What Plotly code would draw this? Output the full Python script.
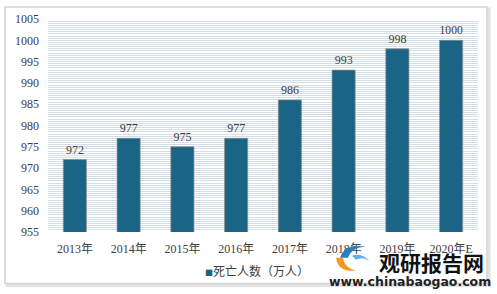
import plotly.graph_objects as go

categories = ["2013年", "2014年", "2015年", "2016年", "2017年", "2018年", "2019年", "2020年E"]
deaths = [972, 977, 975, 977, 986, 993, 998, 1000]
series_name = "死亡人数（万人）"
y_ticks = [955, 960, 965, 970, 975, 980, 985, 990, 995, 1000, 1005]

W, H = 497, 294
L, R, T, B = 48, 19, 17, 62
PW, PH = W - L - R, H - T - B

def px(x):
    return (x - L) / PW

def py(y):
    return (H - B - y) / PH

font_num = "Liberation Serif, Noto Sans CJK SC, serif"
bar_color = "#1a6585"

fig = go.Figure()
fig.add_trace(go.Bar(
    x=categories, y=deaths, name=series_name, showlegend=False,
    marker=dict(color=bar_color, line=dict(color="rgba(140,140,140,0.7)", width=1)),
    text=[str(v) for v in deaths], textposition="outside", cliponaxis=False,
    textfont=dict(size=12, color="#404040", family=font_num),
))

shapes = [
    dict(type="rect", xref="paper", yref="paper",
         x0=px(7), x1=px(489), y0=py(286), y1=py(7),
         line=dict(color="#e2e2e2", width=3), layer="below"),
    dict(type="rect", xref="paper", yref="paper",
         x0=px(5), x1=px(487), y0=py(284), y1=py(5),
         line=dict(color="#d4d4d4", width=1.5), fillcolor="white", layer="below"),
    # logo swirl approximation
    dict(type="path", xref="paper", yref="paper",
         path=f"M {px(340)},{py(258)} Q {px(345)},{py(243)} {px(366)},{py(247)} "
              f"Q {px(352)},{py(247)} {px(348)},{py(258)} Z",
         fillcolor="#2a7fc1", line=dict(width=0), layer="above"),
    dict(type="path", xref="paper", yref="paper",
         path=f"M {px(336)},{py(258)} Q {px(338)},{py(273)} {px(356)},{py(271)} "
              f"Q {px(344)},{py(268)} {px(343)},{py(258)} Z",
         fillcolor="#f39a1e", line=dict(width=0), layer="above"),
    dict(type="path", xref="paper", yref="paper",
         path=f"M {px(352)},{py(256)} Q {px(362)},{py(252)} {px(370)},{py(262)} "
              f"Q {px(364)},{py(256)} {px(356)},{py(260)} Z",
         fillcolor="#5ab2e0", line=dict(width=0), layer="above"),
]

annotations = [
    dict(text=f"<span style='color:{bar_color};font-size:8px'>■</span>{series_name}",
         xref="paper", yref="paper", x=px(203), y=py(271),
         showarrow=False, font=dict(size=12, color="#404040", family="Noto Sans CJK SC"),
         xanchor="left", yanchor="middle"),
    dict(text="<b>观研报告网</b>", xref="paper", yref="paper", x=px(431), y=py(262),
         showarrow=False, font=dict(size=21, color="#111111", family="Noto Sans CJK SC"),
         xanchor="center", yanchor="middle"),
    dict(text="<b>www.chinabaogao.com</b>", xref="paper", yref="paper", x=px(410), y=py(282),
         showarrow=False, font=dict(size=12.5, color="#222222", family="DejaVu Sans"),
         xanchor="center", yanchor="middle"),
]

fig.update_layout(
    width=W, height=H,
    margin=dict(l=L, r=R, t=T, b=B),
    paper_bgcolor="white",
    plot_bgcolor="#f7fafc",
    bargap=0.57,
    showlegend=False,
    shapes=shapes,
    annotations=annotations,
    font=dict(family=font_num, size=12, color="#404040"),
)
fig.update_xaxes(
    showgrid=False, showline=False, ticks="", ticklabelstandoff=8,
    tickfont=dict(size=12, color="#404040", family=font_num),
)
fig.update_yaxes(
    range=[955, 1005], tickvals=y_ticks, ticks="", ticklabelstandoff=8,
    showgrid=True, gridcolor="#d3dfe8", gridwidth=1,
    minor=dict(dtick=0.5, showgrid=True, gridcolor="#d3dfe8", gridwidth=1, tick0=955),
    zeroline=False, showline=False,
    tickfont=dict(size=12, color="#404040", family=font_num),
)

fig.write_html("out.html")
